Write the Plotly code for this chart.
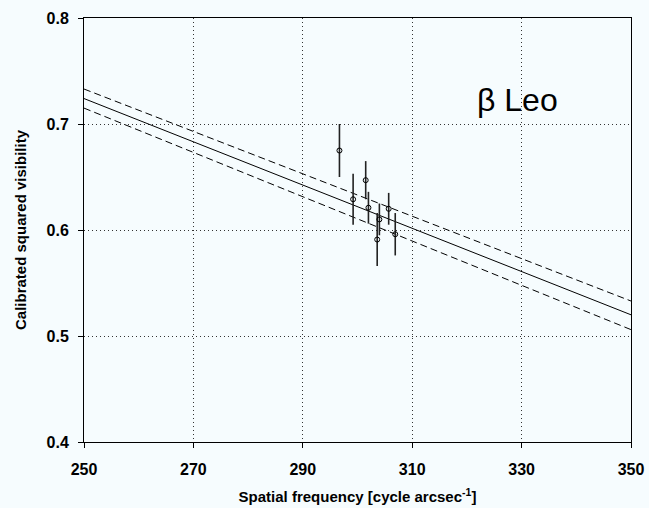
import plotly.graph_objects as go

# Data
freq = [296.7, 299.2, 301.5, 302.0, 304.0, 303.6, 305.7, 306.9]
vis = [0.675, 0.629, 0.647, 0.621, 0.610, 0.591, 0.620, 0.596]
err = [0.025, 0.024, 0.018, 0.015, 0.015, 0.025, 0.015, 0.020]

fit_x = [250, 350]
fit_mid = [0.724, 0.520]
fit_up = [0.733, 0.533]
fit_lo = [0.715, 0.506]

x_ticks = [250, 270, 290, 310, 330, 350]
y_ticks = [0.4, 0.5, 0.6, 0.7, 0.8]

BG = "#f6fcfe"
FONT = "Liberation Sans, Arial, sans-serif"

fig = go.Figure()
fig.add_trace(go.Scatter(x=fit_x, y=fit_up, mode="lines",
                         line=dict(color="black", width=1, dash="7px,4px"), showlegend=False))
fig.add_trace(go.Scatter(x=fit_x, y=fit_mid, mode="lines",
                         line=dict(color="black", width=1), showlegend=False))
fig.add_trace(go.Scatter(x=fit_x, y=fit_lo, mode="lines",
                         line=dict(color="black", width=1, dash="7px,4px"), showlegend=False))
fig.add_trace(go.Scatter(x=freq, y=vis, mode="markers",
                         marker=dict(symbol="circle-open", size=5, color="black", line=dict(width=1)),
                         error_y=dict(type="data", array=err, visible=True, color="#222222",
                                      thickness=1.6, width=0),
                         showlegend=False))

fig.add_annotation(x=0.792, y=0.807, xref="paper", yref="paper", text="β Leo",
                   xanchor="center", yanchor="middle",
                   showarrow=False, font=dict(family=FONT, size=32, color="black"))

fig.update_layout(
    width=649, height=508,
    margin=dict(l=84, r=18, t=18, b=66),
    paper_bgcolor=BG, plot_bgcolor=BG,
    font=dict(family=FONT, color="black"),
)
fig.update_xaxes(range=[250, 350], tickvals=x_ticks, ticktext=[f"<b>{v}</b>" for v in x_ticks],
                 showgrid=True, gridcolor="#333333", griddash="1px,3px", gridwidth=1,
                 showline=True, linecolor="black", linewidth=1, mirror=True,
                 ticks="outside", ticklen=5, tickcolor="black", ticklabelstandoff=8,
                 tickfont=dict(size=16, family=FONT), zeroline=False, automargin=False,
                 title=dict(text="<b>Spatial frequency [cycle arcsec<sup>-1</sup>]</b>",
                            font=dict(size=15, family=FONT), standoff=14))
fig.update_yaxes(range=[0.4, 0.8], tickvals=y_ticks, ticktext=[f"<b>{v:.1f}</b>" for v in y_ticks],
                 showgrid=True, gridcolor="#333333", griddash="1px,3px", gridwidth=1,
                 showline=True, linecolor="black", linewidth=1, mirror=True,
                 ticks="outside", ticklen=5, tickcolor="black", ticklabelstandoff=6,
                 tickfont=dict(size=16, family=FONT), zeroline=False, automargin=False,
                 title=dict(text="<b>Calibrated squared visibility</b>",
                            font=dict(size=15, family=FONT), standoff=16))

fig.write_html("out.html")
